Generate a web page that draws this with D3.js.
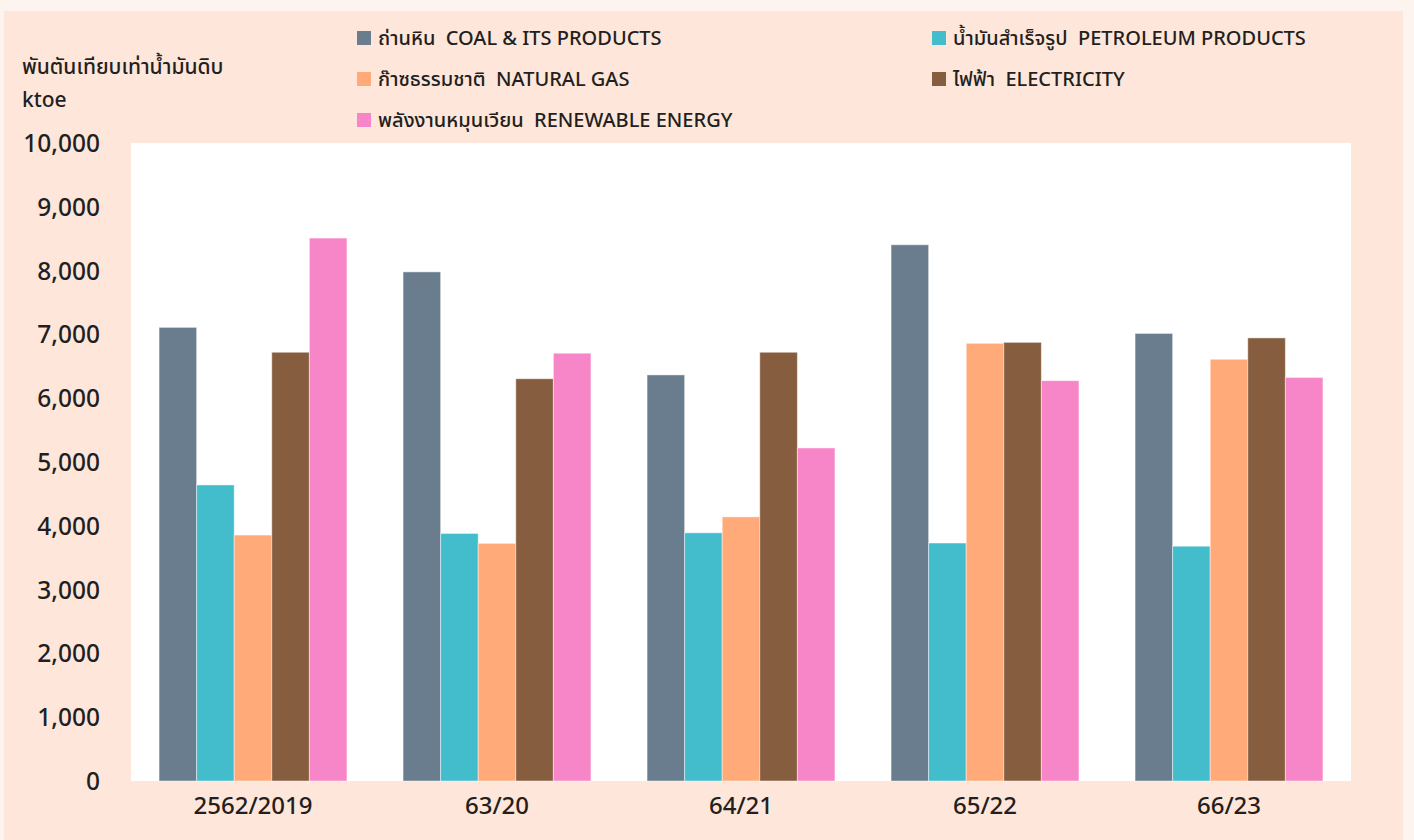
<!DOCTYPE html>
<html>
<head>
<meta charset="utf-8">
<script src="https://cdn.jsdelivr.net/npm/d3@7"></script>
<style>
  html, body { margin: 0; padding: 0; background: #fdf4f0; }
  svg { display: block; }
  text { font-family: "Noto Sans", "Noto Sans Thai", "Open Sans", sans-serif; fill: #231f20; white-space: pre; }
</style>
</head>
<body>
<script>
const categories = ["2562/2019", "63/20", "64/21", "65/22", "66/23"];
const seriesNames = [
  "ถ่านหิน  COAL & ITS PRODUCTS",
  "น้ำมันสำเร็จรูป  PETROLEUM PRODUCTS",
  "ก๊าซธรรมชาติ  NATURAL GAS",
  "ไฟฟ้า  ELECTRICITY",
  "พลังงานหมุนเวียน  RENEWABLE ENERGY"
];
const coal        = [7110, 7980, 6365, 8405, 7015];
const petroleum   = [4640, 3880, 3890, 3730, 3680];
const naturalGas  = [3855, 3725, 4140, 6860, 6610];
const electricity = [6720, 6305, 6720, 6875, 6945];
const renewable   = [8510, 6705, 5220, 6275, 6325];
const colors = ["#6a7d8e", "#43bdcc", "#ffaa78", "#865d3e", "#f786c8"];
const yTicks = [0, 1000, 2000, 3000, 4000, 5000, 6000, 7000, 8000, 9000, 10000];
const yTitle1 = "พันตันเทียบเท่าน้ำมันดิบ";
const yTitle2 = "ktoe";

const seriesValues = [coal, petroleum, naturalGas, electricity, renewable];

const W = 1414, H = 840;
const svg = d3.select("body").append("svg").attr("width", W).attr("height", H);

// peach panel
svg.append("rect").attr("x", 4).attr("y", 11).attr("width", 1399).attr("height", H - 11).attr("fill", "#fee6da");

const plot = { left: 131, right: 1351, top: 143, bottom: 781 };
svg.append("rect").attr("x", plot.left).attr("y", plot.top)
  .attr("width", plot.right - plot.left).attr("height", plot.bottom - plot.top).attr("fill", "#ffffff");

const x0 = d3.scaleBand().domain(categories).range([plot.left, plot.right]).paddingInner(0.23).paddingOuter(0.115);
const x1 = d3.scaleBand().domain(d3.range(seriesNames.length)).range([0, x0.bandwidth()]);
const y = d3.scaleLinear().domain([0, 10000]).range([plot.bottom, plot.top]);

// bars
categories.forEach((c, ci) => {
  const g = svg.append("g").attr("transform", `translate(${x0(c)},0)`);
  seriesValues.forEach((vals, si) => {
    g.append("rect")
      .attr("x", x1(si))
      .attr("y", y(vals[ci]))
      .attr("width", x1.bandwidth())
      .attr("height", y(0) - y(vals[ci]))
      .attr("fill", colors[si])
      .attr("stroke", "rgba(255,255,255,0.45)")
      .attr("stroke-width", 1);
  });
});

// y axis
const yAxis = d3.axisLeft(y).tickValues(yTicks).tickFormat(d3.format(",")).tickSize(0).tickPadding(31);
const ya = svg.append("g").attr("transform", `translate(${plot.left},0)`).call(yAxis);
ya.select(".domain").remove();
ya.selectAll("text").style("font-size", "24.5px").style("font-weight", "500").attr("fill", "#231f20").attr("dy", "0.35em");

// x axis
const xAxis = d3.axisBottom(x0).tickSize(0).tickPadding(16);
const xa = svg.append("g").attr("transform", `translate(0,${plot.bottom})`).call(xAxis);
xa.select(".domain").remove();
xa.selectAll("text").style("font-size", "24px").style("font-weight", "500").attr("fill", "#231f20");

// y title
svg.append("text").attr("x", 22).attr("y", 74).style("font-size", "21px").style("font-weight", "500").text(yTitle1);
svg.append("text").attr("x", 22).attr("y", 107).style("font-size", "21px").style("font-weight", "500").text(yTitle2);

// legend
const legendPos = [
  [357, 38], [932, 38],
  [357, 79], [932, 79],
  [357, 120]
];
const legendOrder = [0, 1, 2, 3, 4];
legendOrder.forEach((si, i) => {
  const [lx, ly] = legendPos[i];
  svg.append("rect").attr("x", lx).attr("y", ly - 7).attr("width", 14).attr("height", 14).attr("fill", colors[si]);
  svg.append("text").attr("x", lx + 21).attr("y", ly).attr("dy", "0.35em")
    .style("font-size", "20px").style("font-weight", "500").text(seriesNames[si]);
});
</script>
</body>
</html>
